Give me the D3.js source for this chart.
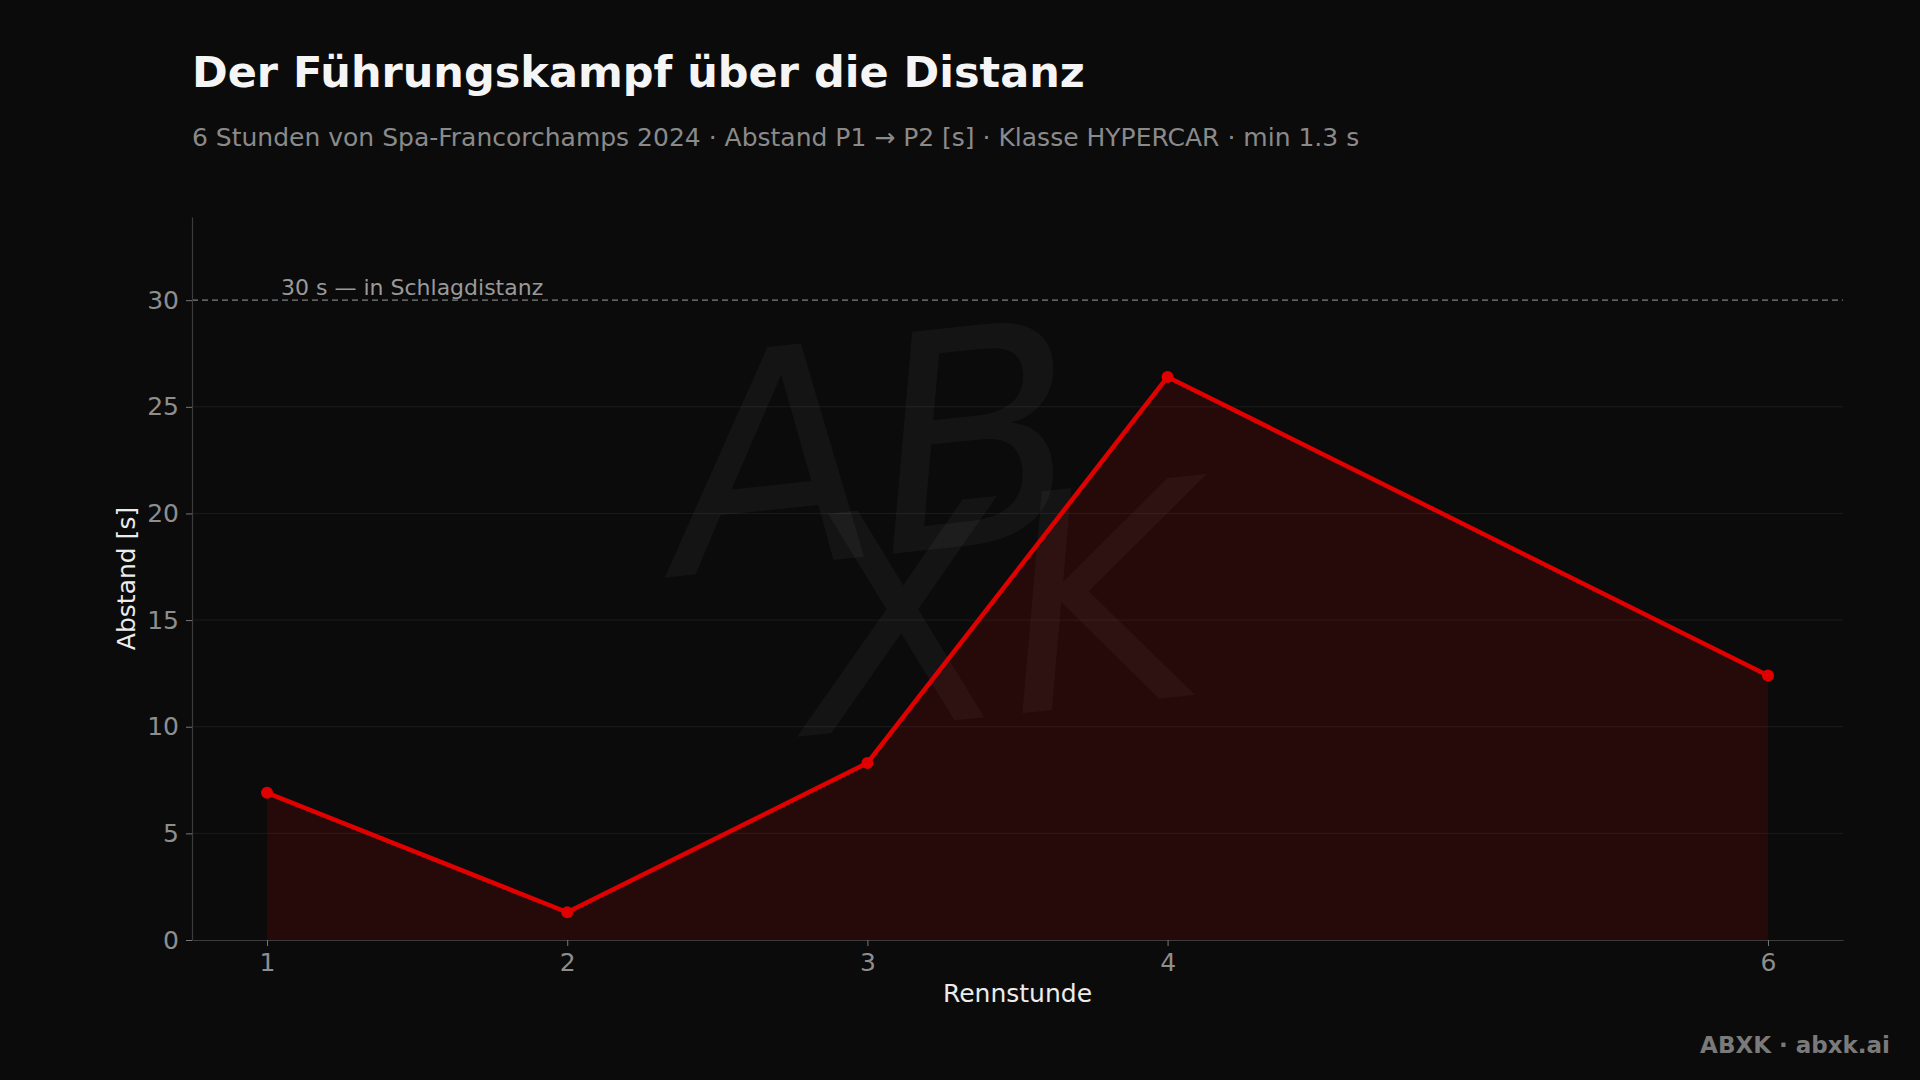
<!DOCTYPE html>
<html>
<head>
<meta charset="utf-8">
<script src="https://cdn.jsdelivr.net/npm/d3@7/dist/d3.min.js"></script>
<style>
  html, body { margin: 0; padding: 0; background: #0b0b0b; }
  svg { display: block; }
  text { font-family: "DejaVu Sans", sans-serif; }
</style>
</head>
<body>
<svg id="chart" width="1920" height="1080"></svg>
<script>
const hours = [1, 2, 3, 4, 6];
const gaps = [6.9, 1.3, 8.3, 26.4, 12.4];
const yTicks = [0, 5, 10, 15, 20, 25, 30];
const refValue = 30;
const refLabel = "30 s — in Schlagdistanz";
const titleText = "Der Führungskampf über die Distanz";
const subtitleText = "6 Stunden von Spa-Francorchamps 2024 · Abstand P1 → P2 [s] · Klasse HYPERCAR · min 1.3 s";
const xLabel = "Rennstunde";
const yLabel = "Abstand [s]";
const footerText = "ABXK · abxk.ai";

const W = 1920, H = 1080;
const m = { left: 192, right: 77, top: 217, bottom: 140 };
const iw = W - m.left - m.right, ih = H - m.top - m.bottom;

const svg = d3.select("#chart");
svg.append("rect").attr("width", W).attr("height", H).attr("fill", "#0b0b0b");

const x = d3.scaleLinear().domain([0.75, 6.25]).range([m.left, m.left + iw]);
const y = d3.scaleLinear().domain([0, 33.9]).range([m.top + ih, m.top]);

// watermark
const wm = svg.append("g")
  .attr("fill", "#ffffff").attr("fill-opacity", 0.04)
  .attr("font-family", "'Liberation Serif', serif").attr("font-style", "italic");
wm.append("text").attr("x", 875).attr("y", 555).attr("text-anchor", "middle")
  .attr("transform", "rotate(-6,875,460)")
  .attr("font-size", 300).text("AB");
wm.append("text").attr("x", 1000).attr("y", 715).attr("text-anchor", "middle")
  .attr("transform", "rotate(-6,1000,620)")
  .attr("font-size", 300).text("XK");

// grid
svg.append("g").selectAll("line").data(yTicks.filter(d => d > 0 && d < refValue)).join("line")
  .attr("x1", m.left).attr("x2", m.left + iw)
  .attr("y1", d => y(d)).attr("y2", d => y(d))
  .attr("stroke", "#ffffff").attr("stroke-opacity", 0.07).attr("stroke-width", 1);

// reference line
svg.append("line").attr("x1", m.left).attr("x2", m.left + iw)
  .attr("y1", y(refValue)).attr("y2", y(refValue))
  .attr("stroke", "#808080").attr("stroke-width", 1.3).attr("stroke-dasharray", "6,4");
svg.append("text").attr("x", x(1) + 14).attr("y", y(refValue) - 5)
  .attr("font-size", 22).attr("fill", "#9a9a9a").text(refLabel);

const data = hours.map((h, i) => ({ h, v: gaps[i] }));

// area
svg.append("path").datum(data)
  .attr("d", d3.area().x(d => x(d.h)).y0(y(0)).y1(d => y(d.v)))
  .attr("fill", "#e00000").attr("fill-opacity", 0.13);

// axes
const yAxis = svg.append("g").attr("transform", `translate(${m.left},0)`)
  .call(d3.axisLeft(y).tickValues(yTicks).tickSize(6).tickPadding(7).tickSizeOuter(0));
const xAxis = svg.append("g").attr("transform", `translate(0,${m.top + ih})`)
  .call(d3.axisBottom(x).tickValues(hours).tickSize(6).tickPadding(7).tickSizeOuter(0).tickFormat(d3.format("d")));
[yAxis, xAxis].forEach(a => {
  a.select(".domain").attr("stroke", "#3c3c3c").attr("stroke-width", 1.2);
  a.selectAll(".tick line").attr("stroke", "#777").attr("stroke-width", 1);
  a.selectAll(".tick text").attr("fill", "#8e8e8e").attr("font-size", 25)
    .attr("font-family", "'DejaVu Sans', sans-serif");
});

// line
svg.append("path").datum(data)
  .attr("d", d3.line().x(d => x(d.h)).y(d => y(d.v)))
  .attr("fill", "none").attr("stroke", "#e00000").attr("stroke-width", 4.5)
  .attr("stroke-linejoin", "round");
svg.append("g").selectAll("circle").data(data).join("circle")
  .attr("cx", d => x(d.h)).attr("cy", d => y(d.v)).attr("r", 6)
  .attr("fill", "#e00000");

// labels
svg.append("text").attr("x", m.left + iw / 2).attr("y", 1002).attr("text-anchor", "middle")
  .attr("font-size", 25).attr("fill", "#ececec").text(xLabel);
svg.append("text").attr("transform", `translate(135,${m.top + ih / 2}) rotate(-90)`)
  .attr("text-anchor", "middle").attr("font-size", 25).attr("fill", "#ececec").text(yLabel);

// title
svg.append("text").attr("x", 192).attr("y", 87).attr("font-size", 43).attr("font-weight", "bold")
  .attr("fill", "#f5f5f5").text(titleText);
svg.append("text").attr("x", 192).attr("y", 146).attr("font-size", 25)
  .attr("fill", "#8a8a8a").text(subtitleText);

// footer
svg.append("text").attr("x", 1890).attr("y", 1053).attr("text-anchor", "end")
  .attr("font-size", 23).attr("font-weight", "bold").attr("fill", "#7a7a7a").text(footerText);
</script>
</body>
</html>
